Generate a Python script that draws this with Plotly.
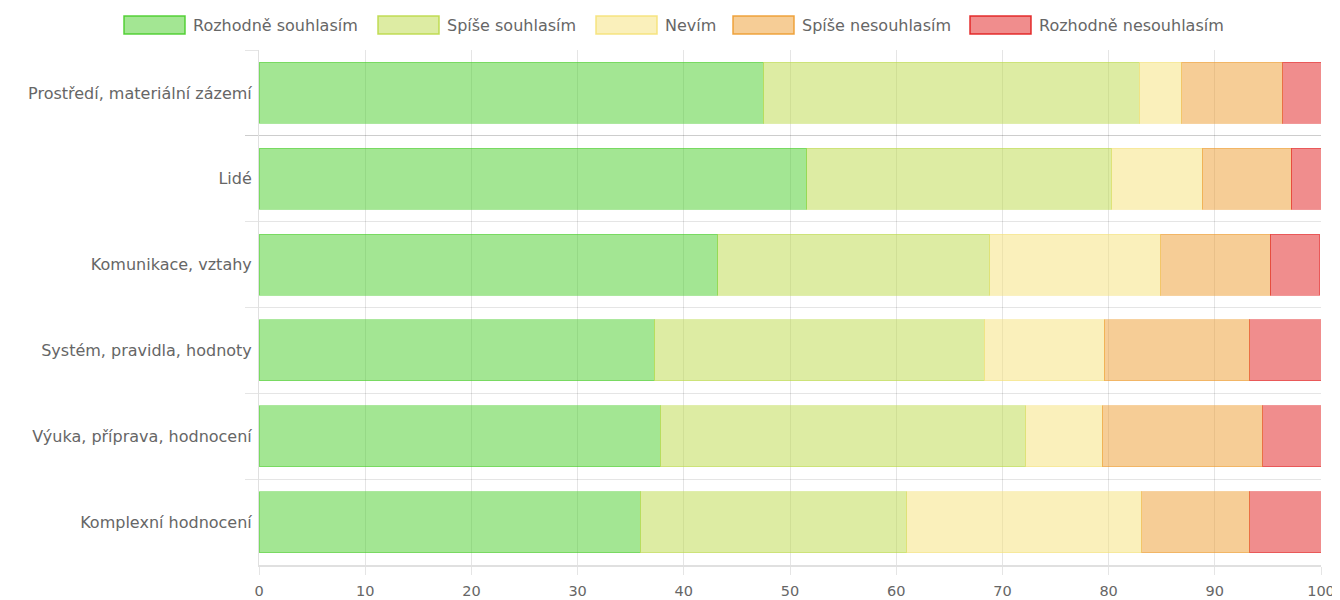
import plotly.graph_objects as go

categories = ["Prostředí, materiální zázemí", "Lidé", "Komunikace, vztahy",
              "Systém, pravidla, hodnoty", "Výuka, příprava, hodnocení", "Komplexní hodnocení"]
series_names = ["Rozhodně souhlasím", "Spíše souhlasím", "Nevím", "Spíše nesouhlasím", "Rozhodně nesouhlasím"]
rozhodne_souhlasim = [47.5, 51.6, 43.2, 37.2, 37.8, 35.9]
spise_souhlasim = [35.4, 28.7, 25.6, 31.1, 34.4, 25.1]
nevim = [4.0, 8.5, 16.1, 11.3, 7.2, 22.1]
spise_nesouhlasim = [9.5, 8.4, 10.3, 13.7, 15.1, 10.2]
rozhodne_nesouhlasim = [3.6, 2.8, 4.7, 6.7, 5.5, 6.7]
x_ticks = [0, 10, 20, 30, 40, 50, 60, 70, 80, 90, 100]

series_values = [rozhodne_souhlasim, spise_souhlasim, nevim, spise_nesouhlasim, rozhodne_nesouhlasim]
base_rgb = ["71,205,40", "187,217,71", "245,225,119", "237,155,45", "225,27,27"]

# page body has an 8px margin, so the figure is sized/offset to compensate
OFF = 8
W, H = 1340 - OFF, 600 - OFF
ML, MR, MT, MB = 259 - OFF, 19, 50 - OFF, 35
PW, PH = W - ML - MR, H - MT - MB
FONT = "DejaVu Sans"
GREY = "#666666"

fig = go.Figure()
for name, vals, rgb in zip(series_names, series_values, base_rgb):
    fig.add_trace(go.Bar(
        y=categories, x=vals, name=name, orientation="h",
        marker=dict(color=f"rgba({rgb},0.5)", line=dict(color=f"rgba({rgb},0.45)", width=1)),
        showlegend=False,
    ))

# custom legend (Chart.js style wide boxes), positions in page pixels
legend_box_px = [124, 378, 596, 733, 970]
shapes, annotations = [], []
def px2x(px):
    return (px - OFF - ML) / PW
def py2y(py):
    return (H + OFF - MB - py) / PH
for name, rgb, bx in zip(series_names, base_rgb, legend_box_px):
    shapes.append(dict(type="rect", xref="paper", yref="paper",
                       x0=px2x(bx), x1=px2x(bx + 61), y0=py2y(34), y1=py2y(16),
                       fillcolor=f"rgba({rgb},0.5)", line=dict(color=f"rgba({rgb},0.9)", width=1.5)))
    annotations.append(dict(xref="paper", yref="paper", x=px2x(bx + 67), y=py2y(25),
                            xanchor="left", yanchor="middle", text=name, showarrow=False,
                            font=dict(family=FONT, size=16, color=GREY)))

fig.update_layout(
    width=W, height=H,
    margin=dict(l=ML, r=MR, t=MT, b=MB, pad=0, autoexpand=False),
    barmode="stack", bargap=0.29,
    plot_bgcolor="white", paper_bgcolor="white",
    font=dict(family=FONT, size=16, color=GREY),
    shapes=shapes, annotations=annotations,
    xaxis=dict(range=[0, 100], tickvals=x_ticks, showgrid=True, gridcolor="rgba(0,0,0,0.1)", gridwidth=1,
               ticks="outside", ticklen=8, tickcolor="rgba(0,0,0,0.1)", automargin=False,
               showline=True, linecolor="rgba(0,0,0,0.12)", linewidth=2,
               zeroline=False, tickfont=dict(family=FONT, size=14.5, color=GREY), ticklabelstandoff=4),
    yaxis=dict(autorange="reversed", tickson="boundaries", showgrid=True, gridcolor="rgba(0,0,0,0.1)",
               ticks="outside", ticklen=13, tickcolor="rgba(0,0,0,0.1)", automargin=False,
               showline=True, linecolor="rgba(0,0,0,0.12)", linewidth=1,
               tickfont=dict(family=FONT, size=16, color=GREY), ticklabelstandoff=3),
)

fig.write_html("out.html", post_script="document.body.style.overflow='hidden';")
